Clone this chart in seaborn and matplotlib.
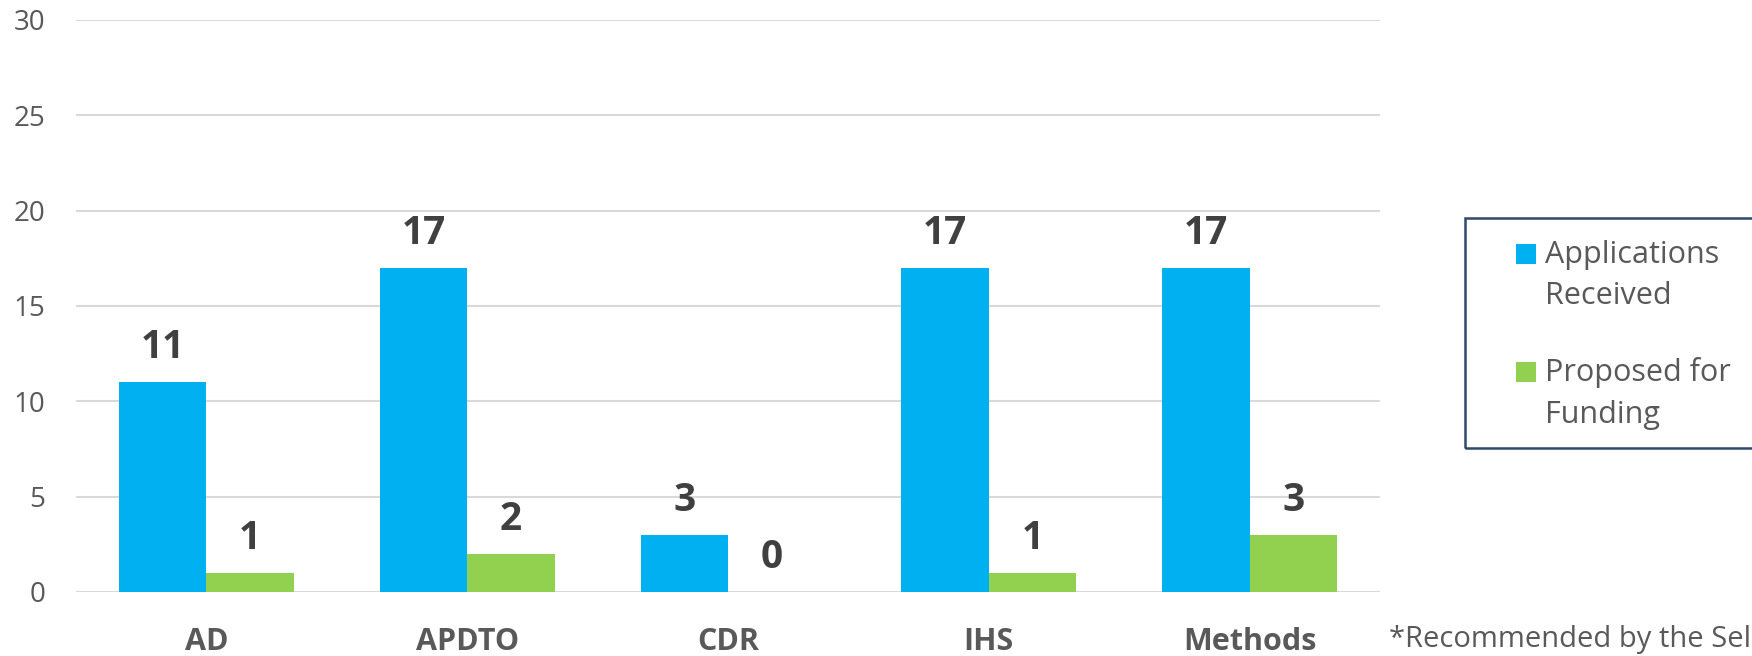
import matplotlib
matplotlib.use("Agg")
import matplotlib.pyplot as plt
import seaborn as sns
import pandas as pd
from matplotlib.patches import Rectangle
from matplotlib.legend_handler import HandlerPatch

categories = ["AD", "APDTO", "CDR", "IHS", "Methods"]
applications = [11, 17, 3, 17, 17]
proposed = [1, 2, 0, 1, 3]
series_names = ["Applications Received", "Proposed for Funding"]
legend_labels = ["Applications\nReceived", "Proposed for\nFunding"]
y_ticks = [0, 5, 10, 15, 20, 25, 30]
footnote = "*Recommended by the Selection Committee"
colors = ["#00B0F0", "#92D050"]

sns.set_theme(style="white")
plt.rcParams["font.family"] = ["Open Sans", "DejaVu Sans"]

df = pd.DataFrame({
    "category": categories * 2,
    "series": [series_names[0]] * len(categories) + [series_names[1]] * len(categories),
    "value": applications + proposed,
})

W, H = 1752, 656
fig = plt.figure(figsize=(W / 100, H / 100), dpi=100)
ax = fig.add_axes([76 / W, 64 / H, 1304 / W, 572 / H])

sns.barplot(data=df, x="category", y="value", hue="series", hue_order=series_names,
            palette=colors, width=0.67, gap=0, saturation=1, errorbar=None,
            legend=False, linewidth=0, ax=ax)

ax.set_ylim(0, 30)
ax.set_yticks(y_ticks)
ax.set_xlabel("")
ax.set_ylabel("")
ax.yaxis.grid(True, color="#D9D9D9", linewidth=1.5)
ax.set_axisbelow(True)
for s in ax.spines.values():
    s.set_visible(False)
ax.tick_params(axis="y", length=0, pad=22, labelsize=20, labelcolor="#595959")
ax.tick_params(axis="x", length=0, pad=25, labelsize=22, labelcolor="#595959")
for lbl in ax.get_xticklabels():
    lbl.set_fontweight("bold")

for cont in ax.containers:
    ax.bar_label(cont, fmt="%d", padding=11, fontsize=28, fontweight="bold", color="#404040")

SHIFT = 16.0


def make_patch(legend, orig_handle, xdescent, ydescent, width, height, fontsize):
    return Rectangle((-xdescent, -ydescent + SHIFT), width, height)


handles = [Rectangle((0, 0), 1, 1, facecolor=c, edgecolor="none") for c in colors]
leg = fig.legend(handles, legend_labels, loc="upper left",
                 bbox_to_anchor=(1516 / W, 1 - 240 / H), frameon=False,
                 fontsize=22, labelcolor="#595959", handlelength=0.65, handleheight=0.65,
                 handletextpad=0.3, labelspacing=1.5, borderpad=0, borderaxespad=0,
                 handler_map={Rectangle: HandlerPatch(patch_func=make_patch)})
for t in leg.get_texts():
    t.set_linespacing(1.5)

fig.add_artist(Rectangle((1465 / W, 1 - 448 / H), 400 / W, 230 / H, transform=fig.transFigure,
                         fill=False, edgecolor="#2E4A6B", linewidth=1.8, clip_on=False))

fig.text(1389 / W, 1 - 639 / H, footnote, fontsize=21, color="#595959", va="center", ha="left")

fig.savefig("out.png", dpi=100)
